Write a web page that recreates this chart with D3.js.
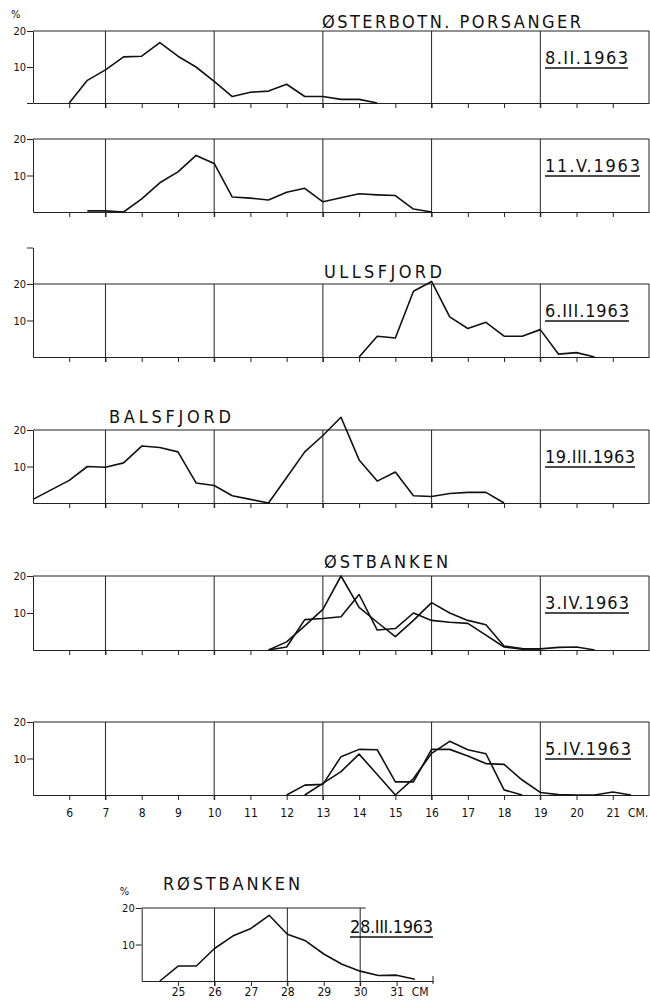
<!DOCTYPE html>
<meta charset="utf-8">
<style>
body { margin: 0; background: #fff; }
svg { display: block; background: #fff; }
text { font-family: "DejaVu Sans Condensed", "DejaVu Sans", sans-serif; fill: #111; }
.frame line, .frame path { stroke: #222; stroke-width: 1; fill: none; }
.axis path, .axis line { stroke: #222; stroke-width: 1; }
.series { fill: none; stroke: #111; stroke-width: 1.6; stroke-linejoin: round; }
</style>

<svg width="650" height="1000"></svg>

<script src="https://cdn.jsdelivr.net/npm/d3@7"></script>
<script>
// length (cm), percent
var porsangerFeb = [[6,0],[6.5,6.3],[7,9.2],[7.5,12.8],[8,13],[8.5,16.8],[9,13],[9.5,10],[10,6],[10.5,1.8],[11,3],[11.5,3.3],[12,5.2],[12.5,1.8],[13,1.8],[13.5,1],[14,1],[14.5,0]];
var porsangerMay = [[6.5,0.3],[7,0.3],[7.5,0],[8,3.6],[8.5,8],[9,11],[9.5,15.5],[10,13.3],[10.5,4.1],[11,3.8],[11.5,3.3],[12,5.4],[12.5,6.5],[13,2.8],[13.5,3.9],[14,5],[14.5,4.7],[15,4.5],[15.5,0.8],[16,0]];
var ullsfjord = [[14,0],[14.5,5.7],[15,5.2],[15.5,18],[16,20.7],[16.5,11],[17,7.8],[17.5,9.5],[18,5.7],[18.5,5.7],[19,7.5],[19.5,0.8],[20,1.2],[20.5,0]];
var balsfjord = [[5,1],[5.5,3.6],[6,6.2],[6.5,10],[7,9.8],[7.5,11],[8,15.6],[8.5,15.2],[9,14],[9.5,5.5],[10,4.8],[10.5,2],[11,1],[11.5,0],[12,7],[12.5,14],[13,18.5],[13.5,23.5],[14,11.8],[14.5,6],[15,8.5],[15.5,2],[16,1.8],[16.5,2.6],[17,2.9],[17.5,2.9],[18,0]];
var ostbanken3a = [[11.5,0],[12,2.2],[12.5,6.5],[13,11],[13.5,20],[14,11.5],[14.5,7.5],[15,3.6],[15.5,8],[16,12.8],[16.5,10],[17,8],[17.5,6.8],[18,1.1],[18.5,0.4],[19,0.3],[19.5,0.7],[20,0.8],[20.5,0]];
var ostbanken3b = [[11.5,0],[12,0.8],[12.5,8.2],[13,8.5],[13.5,9],[14,15],[14.5,5.4],[15,5.8],[15.5,10],[16,8],[16.5,7.5],[17,7.2],[17.5,4],[18,0.8],[18.5,0.2],[19,0.3]];
var ostbanken5a = [[12,0],[12.5,2.7],[13,2.9],[13.5,10.5],[14,12.5],[14.5,12.4],[15,3.6],[15.5,3.6],[16,12.5],[16.5,12.5],[17,10.7],[17.5,8.6],[18,8.4],[18.5,4.1],[19,0.7],[19.5,0.1],[20,0],[20.5,0],[21,0.8],[21.5,0]];
var ostbanken5b = [[12.5,0],[13,3.2],[13.5,6.4],[14,11.2],[14.5,5.6],[15,0],[15.5,4.5],[16,11.4],[16.5,14.7],[17,12.4],[17.5,11.3],[18,1.4],[18.5,0]];
var rostbanken = [[24.5,0],[25,4.1],[25.5,4.1],[26,8.9],[26.5,12.3],[27,14.4],[27.5,18],[28,12.8],[28.5,11],[29,7.4],[29.5,4.6],[30,2.7],[30.5,1.5],[31,1.6],[31.5,0.5]];

var mainTicks = d3.range(6, 22);
var mainGrid = [7, 10, 13, 16, 19];
var rostTicks = d3.range(25, 32);
var rostGrid = [26, 28, 30];

var svg = d3.select("svg");
var x = d3.scaleLinear().domain([5, 22]).range([33, 649]);

var panels = [
  {top: 31,  base: 103, series: [porsangerFeb], title: "ØSTERBOTN. PORSANGER", tx: 322, tw: 259, ty: -3, date: "8.II.1963", dw: 83, pct: true, zero: true},
  {top: 139, base: 212, series: [porsangerMay], date: "11.V.1963", dw: 95},
  {top: 284, base: 357, series: [ullsfjord], title: "ULLSFJORD", tx: 324, tw: 118, ty: -6, date: "6.III.1963", dw: 84, yTop: 30},
  {top: 430, base: 503, series: [balsfjord], title: "BALSFJORD", tx: 109, tw: 122, ty: -7, date: "19.III.1963", dw: 90},
  {top: 576, base: 650, series: [ostbanken3a, ostbanken3b], title: "ØSTBANKEN", tx: 324, tw: 124, ty: -8, date: "3.IV.1963", dw: 84},
  {top: 722, base: 795, series: [ostbanken5a, ostbanken5b], date: "5.IV.1963", dw: 86, labels: true}
];

function drawPanel(p, xs, opts) {
  var y = d3.scaleLinear().domain([0, 20]).range([p.base, p.top]);
  var g = svg.append("g");
  var frame = g.append("g").attr("class", "frame");

  // top line
  frame.append("line")
    .attr("x1", xs(opts.x0)).attr("x2", xs(opts.topEnd))
    .attr("y1", y(20)).attr("y2", y(20));
  // vertical grid lines (run down as ticks)
  frame.selectAll(".grid").data(opts.grid).enter().append("line")
    .attr("x1", function(d) { return xs(d); }).attr("x2", function(d) { return xs(d); })
    .attr("y1", y(20)).attr("y2", p.base + 5);
  if (opts.rightBorder) {
    frame.append("line")
      .attr("x1", xs(opts.x1)).attr("x2", xs(opts.x1))
      .attr("y1", y(20)).attr("y2", p.base);
  }

  // x axis
  var xa = d3.axisBottom(xs).tickValues(opts.ticks).tickSize(5).tickSizeOuter(0)
    .tickPadding(opts.pad);
  if (!opts.labels) xa.tickFormat("");
  var gx = g.append("g").attr("class", "axis")
    .attr("transform", "translate(0," + p.base + ")")
    .call(xa);
  gx.selectAll("text").style("font-size", "12px");

  // y axis
  var yTop = p.yTop || 20;
  var ys = d3.scaleLinear().domain([0, yTop]).range([p.base, y(yTop)]);
  var tv = p.zero ? [0, 10, 20] : [10, 20];
  if (yTop > 20) tv.push(yTop);
  var ya = d3.axisLeft(ys).tickValues(tv).tickSize(6).tickSizeOuter(0).tickPadding(1)
    .tickFormat(function(d) { return (d === 10 || d === 20) ? d : ""; });
  var gy = g.append("g").attr("class", "axis")
    .attr("transform", "translate(" + xs(opts.x0) + ",0)")
    .call(ya);
  gy.selectAll("text").style("font-size", "11px");
  g.selectAll(".domain").style("stroke", "#222");

  if (p.pct) {
    g.append("text").attr("x", xs(opts.x0) - 22).attr("y", p.top - 13)
      .style("font-size", "11px").text("%");
  }

  // data lines
  var line = d3.line().x(function(d) { return xs(d[0]); }).y(function(d) { return y(d[1]); });
  g.selectAll(".series").data(p.series).enter().append("path")
    .attr("class", "series").attr("d", line);

  // title
  if (p.title) {
    g.append("text").attr("x", p.tx).attr("y", p.top + p.ty)
      .attr("textLength", p.tw).attr("lengthAdjust", "spacing")
      .style("font-size", "18px").text(p.title);
  }
  // date with underline
  var dx = opts.dateX;
  var dy = p.top + opts.dateDy;
  g.append("text").attr("x", dx).attr("y", dy)
    .attr("textLength", p.dw).attr("lengthAdjust", "spacing")
    .style("font-size", "18px").text(p.date);
  g.append("line").attr("class", "frame")
    .attr("x1", dx).attr("x2", dx + p.dw)
    .attr("y1", dy + 4).attr("y2", dy + 4)
    .style("stroke", "#111").style("stroke-width", 1.3);
  return g;
}

panels.forEach(function(p) {
  var g = drawPanel(p, x, {
    x0: 5, x1: 22, topEnd: 22, grid: mainGrid, ticks: mainTicks,
    rightBorder: true, labels: !!p.labels, pad: 8, dateX: 545, dateDy: 33
  });
  if (p.labels) {
    g.append("text").attr("x", x(21.7)).attr("y", p.base + 21.5)
      .attr("text-anchor", "middle").style("font-size", "12px").text("CM.");
  }
});

// Røstbanken
var xr = d3.scaleLinear().domain([24, 32]).range([141.7, 433]);
var rost = {top: 908, base: 981, series: [rostbanken], title: "RØSTBANKEN", tx: 163, tw: 137, ty: -18,
            date: "28.III.1963", dw: 83, pct: true};
var gr = drawPanel(rost, xr, {
  x0: 24, x1: 32, topEnd: 30.15, grid: rostGrid, ticks: rostTicks,
  rightBorder: false, labels: true, pad: 1.5, dateX: 350, dateDy: 25
});
gr.append("line").attr("class", "frame")
  .attr("x1", xr(32)).attr("x2", xr(32)).attr("y1", rost.base - 5).attr("y2", rost.base + 3)
  .style("stroke", "#222");
gr.append("text").attr("x", xr(31.65)).attr("y", rost.base + 15)
  .attr("text-anchor", "middle").style("font-size", "12px").text("CM");
</script>
